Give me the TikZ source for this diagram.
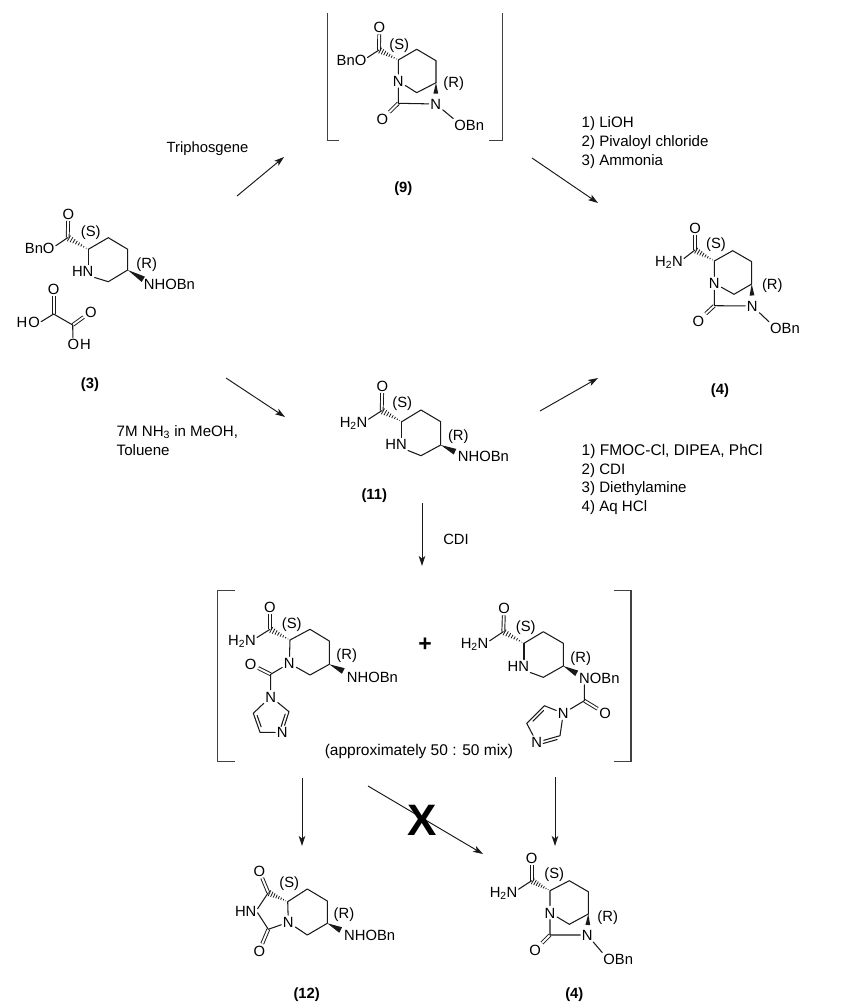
\documentclass[tikz,border=0pt]{standalone}
\usepackage{fontspec}
\setmainfont{Liberation Sans}
\usetikzlibrary{calc,arrows.meta}
\tikzset{
  fs/.style={font=\fontsize{14.8}{16}\selectfont},
  atom/.style={fs,text height=10.6pt,text depth=0pt,inner sep=1.5pt},
  tx/.style={fs,text height=10.6pt,text depth=0pt,inner sep=1pt},
  num/.style={font=\fontsize{14.8}{16}\selectfont\bfseries,text height=10.6pt,text depth=0pt,inner sep=1pt},
  note/.style={tx,anchor=west,font=\fontsize{15.1}{16}\selectfont},
  wide/.style={font=\fontsize{15.5}{16}\selectfont},
  bond/.style={line width=1.05pt,line cap=round,line join=round,black!90},
  dbl/.style={line width=.95pt,double,double distance=1.9pt,black!90},
  brk/.style={line width=1.1pt,black!75},
  rxn/.style={line width=.95pt,black!90,-{Stealth[length=10pt,width=6.5pt,inset=2.5pt]}},
}
\newcommand{\hsh}[2]{\foreach \t in {.1,.22,.34,.46,.58,.7,.82,.94}{\draw[line width=.8pt,black!90] ($(#1)!\t!(#2)!\t*3.4pt!90:(#2)$) -- ($(#1)!\t!(#2)!\t*3.4pt!-90:(#2)$);}}
\newcommand{\wdg}[3]{\fill[black!90] (#1) -- ($(#2)!#3!90:(#1)$) -- ($(#2)!#3!-90:(#1)$) -- cycle;}
\newcommand{\inner}[3]{\draw[bond] ($(#1)!.16!(#2)!2.9pt!#3:(#2)$) -- ($(#1)!.76!(#2)!2.9pt!#3:(#2)$);}
\begin{document}
\begin{tikzpicture}[x=1pt,y=-1pt]
\useasboundingbox (0,0) rectangle (860,1008);
\fill[white] (0,0) rectangle (860,1008);

% ---------- compound 9
\coordinate (ac) at (379,50);
\node[atom] (ao) at (379.3,27.3) {O};
\node[tx,anchor=east] (abno) at (367.5,60) {BnO};
\coordinate (a2) at (398.3,60);
\coordinate (a3) at (416.7,49.3);
\coordinate (a4) at (436,60.7);
\coordinate (a5) at (436,82.7);
\coordinate (a6) at (416.7,92.7);
\node[atom] (an1) at (398.3,81) {N};
\coordinate (a7) at (398.3,103.3);
\node[atom] (ao2) at (382.3,119) {O};
\node[atom] (an2) at (435.7,104) {N};
\node[tx,anchor=west] (aobn) at (453.2,125) {OBn};
\node[tx] (as) at (399.3,44.3) {(S)};
\node[tx] (ar) at (453.7,82.3) {(R)};
\coordinate (atip) at (435.8,93.7);
\draw[dbl] (ac) -- (ao);
\draw[dbl] (a7) -- (ao2);
\draw[bond] (ac) -- ([yshift=2.5pt]abno.east);
\draw[bond] (a2) -- (a3) -- (a4) -- (a5) -- (a6) -- (an1) -- (a2);
\draw[bond] (an1) -- (a7) -- (an2) -- (aobn.north west);
\hsh{a2}{ac}
\wdg{a5}{atip}{2.4pt}
\node[num] (l9) at (403.3,187) {(9)};

% ---------- brackets of 9
\coordinate (b1) at (339,140.7);
\coordinate (b2) at (327.3,140.7);
\coordinate (b3) at (327.3,13);
\coordinate (b4) at (489,140.7);
\coordinate (b5) at (502.3,140.7);
\coordinate (b6) at (502.3,13);
\draw[brk] (b1) -- (b2) -- (b3);
\draw[brk] (b4) -- (b5) -- (b6);

% ---------- compound 3
\coordinate (cc) at (67.7,237.7);
\node[atom] (co) at (68.3,214) {O};
\node[tx,anchor=east] (cbno) at (55.7,248.3) {BnO};
\coordinate (c2) at (88.3,249.3);
\coordinate (c3) at (108.3,237.7);
\coordinate (c4) at (127.7,249.3);
\coordinate (c5) at (127.7,270);
\coordinate (c6) at (108.3,281.7);
\node[tx,anchor=east] (chn) at (94.6,271) {HN};
\node[tx,anchor=west] (cnh) at (142.7,284) {NHOBn};
\node[tx] (cs) at (90.7,231.3) {(S)};
\node[tx] (cr) at (146.7,263.3) {(R)};
\coordinate (ctip) at (143.3,279.3);
\draw[dbl] (cc) -- (co);
\draw[bond] (cc) -- ([yshift=2.5pt]cbno.east);
\draw[bond] (c2) -- (c3) -- (c4) -- (c5) -- (c6) -- (chn.south east);
\draw[bond] (c2) -- ([xshift=-6.3pt]chn.north east);
\hsh{c2}{cc}
\wdg{c5}{ctip}{3.1pt}
% oxalic acid
\coordinate (x1) at (53.6,314);
\coordinate (x2) at (72.7,325);
\node[atom] (xo1) at (53.6,289.3) {O};
\node[atom] (xo2) at (91,311.7) {O};
\node[tx] (xho) at (28.3,321.7) {H\kern1pt O};
\node[tx] (xoh) at (79.2,344) {O\kern1pt H};
\draw[dbl] (x1) -- (xo1);
\draw[dbl] (x2) -- (xo2);
\draw[bond] (xho.east) -- (x1) -- (x2) -- ([xshift=6.5pt]xoh.north west);
\node[num] (l3) at (90,382.7) {(3)};

% ---------- compound 4 (top)
\coordinate (dc) at (695,250);
\node[atom] (do) at (695,228.3) {O};
\node[tx,anchor=east] (dh) at (684,261) {H\textsubscript{2}N};
\coordinate (d2) at (714.3,261);
\coordinate (d3) at (732.7,250.7);
\coordinate (d4) at (751.7,261.7);
\coordinate (d5) at (751.7,284);
\coordinate (d6) at (734,294.3);
\node[atom] (dn1) at (714.3,283.3) {N};
\coordinate (d7) at (714.3,305.7);
\node[atom] (do2) at (698.3,320.7) {O};
\node[atom] (dn2) at (752.3,306) {N};
\begin{scope}
\clip (0,0) rectangle (798.3,1008);
\node[tx,anchor=west] (dobn) at (769,328.3) {OBn};
\end{scope}
\node[tx] (ds) at (716,243.3) {(S)};
\node[tx] (dr) at (772.3,284) {(R)};
\coordinate (dtip) at (752,295.5);
\draw[dbl] (dc) -- (do);
\draw[dbl] (d7) -- (do2);
\draw[bond] (dc) -- ([yshift=2.5pt]dh.east);
\draw[bond] (d2) -- (d3) -- (d4) -- (d5) -- (d6) -- (dn1) -- (d2);
\draw[bond] (dn1) -- (d7) -- (dn2) -- (dobn.north west);
\hsh{d2}{dc}
\wdg{d5}{dtip}{2.4pt}
\node[num] (l4a) at (720,389) {(4)};

% ---------- compound 11
\coordinate (ec) at (381.7,410.7);
\node[atom] (eo) at (382.3,386) {O};
\node[tx,anchor=east] (eh) at (368.6,421.7) {H\textsubscript{2}N};
\coordinate (e2) at (401.7,421.7);
\coordinate (e3) at (421,410);
\coordinate (e4) at (440.7,421.7);
\coordinate (e5) at (440.7,445);
\coordinate (e6) at (421,455.7);
\node[tx,anchor=east] (ehn) at (408,444) {HN};
\node[tx,anchor=west] (enh) at (456.7,456) {NHOBn};
\node[tx] (es) at (402.3,402.3) {(S)};
\node[tx] (er) at (458.3,435) {(R)};
\coordinate (etip) at (455,451.7);
\draw[dbl] (ec) -- (eo);
\draw[bond] (ec) -- ([yshift=2.5pt]eh.east);
\draw[bond] (e2) -- (e3) -- (e4) -- (e5) -- (e6) -- (ehn.south east);
\draw[bond] (e2) -- ([xshift=-6.3pt]ehn.north east);
\hsh{e2}{ec}
\wdg{e5}{etip}{3.1pt}
\node[num] (l11) at (374.3,494) {(11)};

% ---------- mixture, left
\coordinate (fc) at (270,629.3);
\node[atom] (fo) at (270,606.7) {O};
\node[tx,anchor=east] (fh) at (257,640) {H\textsubscript{2}N};
\coordinate (f2) at (290,640);
\coordinate (f3) at (310,629.3);
\coordinate (f4) at (329.3,641);
\coordinate (f5) at (329.3,664.3);
\coordinate (f6) at (310,675);
\node[atom] (fn) at (289.3,663.3) {N};
\node[tx,anchor=west] (fnh) at (345.7,676.7) {NHOBn};
\node[tx] (fs) at (291.7,622.7) {(S)};
\node[tx] (fr) at (346.7,654) {(R)};
\coordinate (ftip) at (343.3,671);
\coordinate (f7) at (270.7,674.3);
\node[atom] (fo2) at (250.7,664.3) {O};
\node[atom] (fi1) at (270.7,696.7) {N};
\coordinate (fi5) at (253.3,713.3);
\coordinate (fi4) at (260,732.3);
\node[atom] (fi3) at (282.3,732.3) {N};
\coordinate (fi2) at (289,711.7);
\draw[dbl] (fc) -- (fo);
\draw[dbl] (f7) -- (fo2);
\draw[bond] (fc) -- ([yshift=2.5pt]fh.east);
\draw[bond] (f2) -- (f3) -- (f4) -- (f5) -- (f6) -- (fn) -- (f2);
\draw[bond] (fn) -- (f7) -- (fi1);
\draw[bond] (fi1) -- (fi5) -- (fi4) -- (fi3) -- (fi2) -- (fi1);
\inner{fi5}{fi4}{90}
\inner{fi2}{fi3}{-90}
\hsh{f2}{fc}
\wdg{f5}{ftip}{3.1pt}

% ---------- mixture, right
\coordinate (gc) at (503.3,631.7);
\node[atom] (go) at (504,608.3) {O};
\node[tx,anchor=east] (gh) at (489.6,643.3) {H\textsubscript{2}N};
\coordinate (g2) at (524,643.3);
\coordinate (g3) at (543.3,631.7);
\coordinate (g4) at (563.3,643.3);
\coordinate (g5) at (563.3,666);
\coordinate (g6) at (543.3,677.3);
\node[tx,anchor=east] (ghn) at (530.3,666) {HN};
\node[tx,anchor=west] (gnh) at (578,678.3) {NOBn};
\node[tx] (gs) at (525.7,625.7) {(S)};
\node[tx] (gr) at (580.7,657.3) {(R)};
\coordinate (gtip) at (576.7,673.3);
\coordinate (g7) at (584.3,700.7);
\node[atom] (go2) at (605,713.3) {O};
\node[atom] (gi1) at (563.3,713.3) {N};
\coordinate (gi5) at (544.3,705.7);
\coordinate (gi4) at (526.7,723.3);
\node[atom] (gi3) at (536.7,742.3) {N};
\coordinate (gi2) at (560,735.7);
\draw[dbl] (gc) -- (go);
\draw[dbl] (g7) -- (go2);
\draw[bond] (gc) -- ([yshift=2.5pt]gh.east);
\draw[bond] (g2) -- (g3) -- (g4) -- (g5) -- (g6) -- (ghn.south east);
\draw[bond] (g2) -- ([xshift=-6.3pt]ghn.north east);
\draw[bond] ([xshift=6.3pt]gnh.south west) -- (g7) -- (gi1);
\draw[bond] (gi1) -- (gi5) -- (gi4) -- (gi3) -- (gi2) -- (gi1);
\inner{gi5}{gi4}{90}
\inner{gi2}{gi3}{90}
\hsh{g2}{gc}
\wdg{g5}{gtip}{3.1pt}

% ---------- brackets of the mixture, plus, note
\coordinate (h1) at (235,590.7);
\coordinate (h2) at (217.3,590.7);
\coordinate (h3) at (217.3,761.7);
\coordinate (h4) at (235,761.7);
\coordinate (h5) at (614.3,590.5);
\coordinate (h6) at (631,590.5);
\coordinate (h7) at (631,761.7);
\coordinate (h8) at (614.3,761.7);
\draw[brk] (h1) -- (h2) -- (h3) -- (h4);
\draw[brk] (h5) -- (h6) -- (h7) -- (h8);
\node[font=\fontsize{23}{24}\selectfont\bfseries,inner sep=0pt] (plus) at (425,645) {+};
\node[tx,wide] (mix) at (419,750) {(approximately 50 : 50 mix)};

% ---------- compound 12
\node[atom] (io) at (259.3,871) {O};
\coordinate (ic) at (268.3,892.7);
\coordinate (i2) at (287.7,901.7);
\coordinate (i3) at (307.3,889);
\coordinate (i4) at (327.3,901);
\coordinate (i5) at (327.3,923.3);
\coordinate (i6) at (307.3,935);
\node[atom] (in) at (288.3,922.3) {N};
\coordinate (i7) at (268.3,929.3);
\node[atom] (io2) at (259.3,950.7) {O};
\node[tx,anchor=east] (ihn) at (257.6,910.7) {HN};
\node[tx,anchor=west] (inh) at (343,935) {NHOBn};
\node[tx] (is) at (289.3,882.3) {(S)};
\node[tx] (ir) at (344,913.3) {(R)};
\coordinate (itip) at (340.7,930);
\draw[dbl] (ic) -- (io);
\draw[dbl] (i7) -- (io2);
\draw[bond] (i2) -- (i3) -- (i4) -- (i5) -- (i6) -- (in) -- (i2);
\draw[bond] (in) -- (i7) -- ([yshift=-2pt]ihn.east);
\draw[bond] (ic) -- ([yshift=2pt]ihn.east);
\hsh{i2}{ic}
\wdg{i5}{itip}{3.1pt}
\node[num] (l12) at (306.7,993) {(12)};

% ---------- compound 4 (bottom)
\coordinate (jc) at (531.7,880.7);
\node[atom] (jo) at (531.7,858.3) {O};
\node[tx,anchor=east] (jh) at (518.6,891.7) {H\textsubscript{2}N};
\coordinate (j2) at (550,890.7);
\coordinate (j3) at (569.3,880.7);
\coordinate (j4) at (588.3,891.7);
\coordinate (j5) at (588.3,914);
\coordinate (j6) at (569.3,924.3);
\node[atom] (jn1) at (550,912.7) {N};
\coordinate (j7) at (550,935);
\node[atom] (jo2) at (535,950) {O};
\node[atom] (jn2) at (587.3,935) {N};
\node[tx,anchor=west] (jobn) at (602.2,959) {OBn};
\node[tx] (js) at (554.3,873.3) {(S)};
\node[tx] (jr) at (607.7,916) {(R)};
\coordinate (jtip) at (587.8,925);
\draw[dbl] (jc) -- (jo);
\draw[dbl] (j7) -- (jo2);
\draw[bond] (jc) -- ([yshift=2.5pt]jh.east);
\draw[bond] (j2) -- (j3) -- (j4) -- (j5) -- (j6) -- (jn1) -- (j2);
\draw[bond] (jn1) -- (j7) -- (jn2) -- (jobn.north west);
\hsh{j2}{jc}
\wdg{j5}{jtip}{2.4pt}
\node[num] (l4b) at (574.3,992.7) {(4)};

% ---------- reaction arrows
\coordinate (r1a) at (237,196); \coordinate (r1b) at (284,157);
\coordinate (r2a) at (532,158); \coordinate (r2b) at (598,203);
\coordinate (r3a) at (226,378); \coordinate (r3b) at (285,417);
\coordinate (r4a) at (540,411); \coordinate (r4b) at (598,378);
\coordinate (r5a) at (422,503); \coordinate (r5b) at (422,566);
\coordinate (r6a) at (302,778); \coordinate (r6b) at (302,846);
\coordinate (r7a) at (368,786); \coordinate (r7b) at (483,854);
\coordinate (r8a) at (555,777); \coordinate (r8b) at (555,846);
\draw[rxn] (r1a) -- (r1b);
\draw[rxn] (r2a) -- (r2b);
\draw[rxn] (r3a) -- (r3b);
\draw[rxn] (r4a) -- (r4b);
\draw[rxn] (r5a) -- (r5b);
\draw[rxn] (r6a) -- (r6b);
\draw[rxn] (r7a) -- (r7b);
\draw[rxn] (r8a) -- (r8b);
\node[font=\fontsize{44}{46}\selectfont\bfseries,inner sep=0pt] (cross) at (422.5,820) {X};

% ---------- conditions
\node[tx] (t1) at (207.5,147) {Triphosgene};
\node[note] (t2) at (580.5,122) {1) LiOH};
\node[note] (t3) at (580.5,141) {2) Pivaloyl chloride};
\node[note] (t4) at (580.5,160) {3) Ammonia};
\node[note] (t5) at (115.5,431) {7M NH\textsubscript{3} in MeOH,};
\node[note] (t6) at (115.5,450) {Toluene};
\node[note,wide] (t7) at (580.5,450) {1) FMOC-Cl, DIPEA, PhCl};
\node[note] (t8) at (580.5,469) {2) CDI};
\node[note] (t9) at (580.5,487) {3) Diethylamine};
\node[note] (t10) at (580.5,506) {4) Aq HCl};
\node[tx] (t11) at (456,539) {CDI};
\end{tikzpicture}
\end{document}
